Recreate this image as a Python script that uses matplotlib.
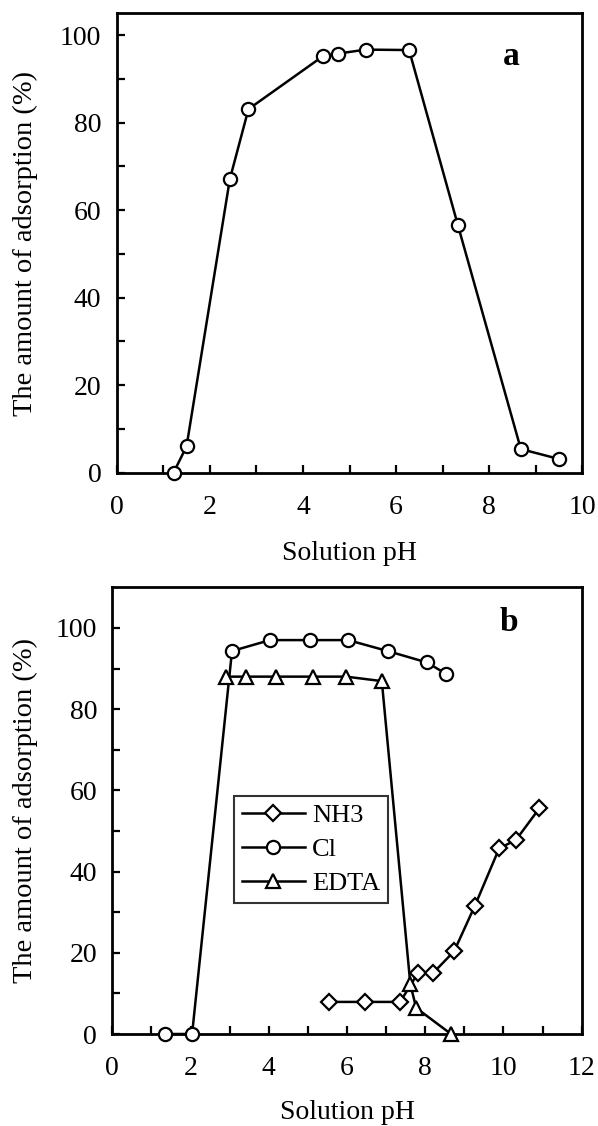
"""Adsorption vs. solution pH, two stacked panels (a, b)
"""
import matplotlib
matplotlib.use('Agg')
import matplotlib.pyplot as plt
from matplotlib.ticker import MultipleLocator

# panel a
ph_a = [1.22, 1.50, 2.43, 2.83, 4.43, 4.76, 5.35, 6.28, 7.33, 8.68, 9.51]
ads_a = [0.0, 6.0, 67.1, 83.1, 95.2, 95.8, 96.7, 96.6, 56.5, 5.4, 3.1]

# panel b
ph_nh3 = [5.53, 6.47, 7.36, 7.82, 8.21, 8.74, 9.27, 9.89, 10.32, 10.92]
ads_nh3 = [7.9, 7.9, 7.9, 15.1, 15.1, 20.4, 31.6, 45.7, 47.8, 55.6]
ph_cl = [1.34, 2.04, 3.06, 4.03, 5.05, 6.03, 7.04, 8.04, 8.53]
ads_cl = [0.0, 0.0, 94.3, 97.0, 97.0, 97.0, 94.3, 91.5, 88.7]
ph_edta = [2.90, 3.42, 4.18, 5.14, 5.98, 6.89, 7.62, 7.77, 8.66]
ads_edta = [88.0, 88.0, 88.0, 88.0, 88.0, 86.9, 12.2, 6.4, 0.0]

W, H = 598, 1126
DPI = 100

plt.rcParams['font.family'] = ['Liberation Serif', 'DejaVu Serif']
plt.rcParams['mathtext.fontset'] = 'stix'

fig = plt.figure(figsize=(W / DPI, H / DPI), dpi=DPI)


def px_axes(left, top, right, bottom):
	''' add axes given pixel box of the figure '''
	return fig.add_axes([left / W, 1 - bottom / H,
		(right - left) / W, (bottom - top) / H])


def style_axes(ax, xmax, ymax):
	ax.set_xlim(0, xmax)
	ax.set_ylim(0, ymax)
	ax.xaxis.set_major_locator(MultipleLocator(2))
	ax.xaxis.set_minor_locator(MultipleLocator(1))
	ax.set_yticks(range(0, 101, 20))
	ax.set_yticks(range(0, 101, 10), minor=True)
	for s in ax.spines.values():
		s.set_linewidth(2.0)
	ax.tick_params(which='both', direction='in', top=False, right=False,
		width=1.6, length=6, labelsize=20)
	ax.tick_params(axis='y', pad=11)
	ax.tick_params(axis='x', pad=16)
	ax.set_xlabel('Solution pH', fontsize=20)
	ax.set_ylabel('The amount of adsorption (%)', fontsize=20.5)


line_kw = dict(color='black', linewidth=1.8, markerfacecolor='white',
	markeredgecolor='black', markeredgewidth=1.6, clip_on=False, zorder=3)

# ---- panel a ----
ax_a = px_axes(116.7, 13.3, 582.3, 472.7)
style_axes(ax_a, 10, 105)
ax_a.plot(ph_a, ads_a, marker='o', markersize=9.5, **line_kw)
ax_a.text(8.48, 95.2, 'a', fontsize=24, fontweight='bold',
	ha='center', va='center')
ax_a.xaxis.set_label_coords(0.5, -0.148)
ax_a.yaxis.set_label_coords(-0.168, 0.5)

# ---- panel b ----
ax_b = px_axes(112.3, 587.3, 581.7, 1034.0)
style_axes(ax_b, 12, 110)
ax_b.plot(ph_nh3, ads_nh3, marker='D', markersize=8, label='NH3', **line_kw)
ax_b.plot(ph_cl, ads_cl, marker='o', markersize=9.5, label='Cl', **line_kw)
ax_b.plot(ph_edta, ads_edta, marker='^', markersize=10.5, label='EDTA', **line_kw)
ax_b.text(10.14, 101.4, 'b', fontsize=24, fontweight='bold',
	ha='center', va='center')
ax_b.xaxis.set_label_coords(0.5, -0.148)
ax_b.yaxis.set_label_coords(-0.158, 0.5)

leg = ax_b.legend(loc='upper left', bbox_to_anchor=(0.259, 0.533),
	borderaxespad=0, fontsize=19, frameon=True, fancybox=False,
	handlelength=2.4, handletextpad=0.25, labelspacing=0.4,
	borderpad=0.3)
leg.get_frame().set_edgecolor('black')
leg.get_frame().set_linewidth(1.5)

fig.savefig('out.png', dpi=DPI)
